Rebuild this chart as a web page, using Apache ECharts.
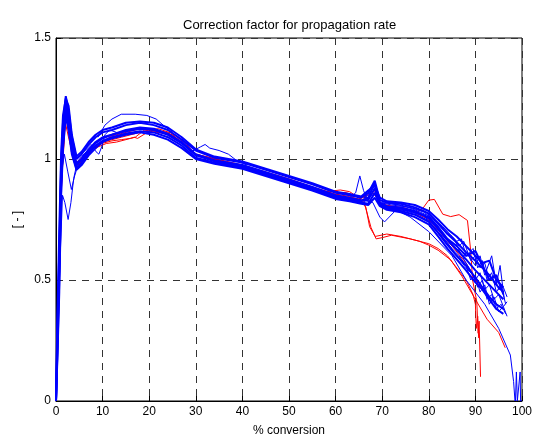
<!DOCTYPE html>
<html>
<head>
<meta charset="utf-8">
<script src="https://cdn.jsdelivr.net/npm/echarts@6/dist/echarts.min.js"></script>
<style>
  html, body { margin: 0; padding: 0; background: #fff; }
  #chart { width: 535px; height: 442px; }
</style>
</head>
<body>
<div id="chart"></div>
<script>
// shared conversion grid for the main blue bundle
var xGrid = [0, 0.3, 0.7, 1.1, 1.5, 2.1, 2.7, 3.4, 4.4, 5.5, 7, 8.5, 10, 12, 15, 18, 21, 24, 27, 30, 34, 40, 45, 50, 55, 60, 63, 65.5, 67, 68.4, 69.5, 71, 74, 77, 80, 82, 84, 86, 88, 90, 91.5, 93, 94.5, 96]

var blue1 = [0, 0.25, 0.55, 0.92, 1.10, 1.24, 1.17, 1.06, 0.98, 1.00, 1.04, 1.07, 1.09, 1.10, 1.12, 1.13, 1.125, 1.105, 1.07, 1.02, 0.995, 0.975, 0.945, 0.915, 0.885, 0.85, 0.84, 0.83, 0.83, 0.88, 0.82, 0.805, 0.80, 0.785, 0.755, 0.71, 0.665, 0.625, 0.585, 0.54, 0.51, 0.48, 0.45, 0.42]
var blue2 = [0, 0.3, 0.62, 0.98, 1.15, 1.26, 1.2, 1.09, 1.0, 1.02, 1.06, 1.09, 1.11, 1.12, 1.14, 1.15, 1.14, 1.12, 1.08, 1.035, 1.005, 0.985, 0.955, 0.925, 0.895, 0.86, 0.85, 0.84, 0.86, 0.91, 0.83, 0.82, 0.815, 0.80, 0.775, 0.735, 0.69, 0.655, 0.615, 0.58, 0.55, 0.52, 0.48, 0.45]
var blue3 = [0, 0.2, 0.5, 0.88, 1.06, 1.2, 1.13, 1.03, 0.96, 0.985, 1.025, 1.055, 1.075, 1.09, 1.105, 1.115, 1.11, 1.09, 1.055, 1.005, 0.985, 0.965, 0.935, 0.905, 0.875, 0.84, 0.83, 0.82, 0.815, 0.86, 0.81, 0.795, 0.785, 0.77, 0.74, 0.695, 0.645, 0.6, 0.56, 0.51, 0.47, 0.43, 0.4, 0.38]
var blue4 = [0, 0.35, 0.7, 1.02, 1.18, 1.25, 1.22, 1.1, 1.01, 1.03, 1.07, 1.1, 1.12, 1.13, 1.15, 1.155, 1.15, 1.13, 1.09, 1.04, 1.01, 0.99, 0.96, 0.93, 0.9, 0.865, 0.855, 0.845, 0.87, 0.89, 0.84, 0.825, 0.82, 0.81, 0.785, 0.75, 0.71, 0.68, 0.64, 0.6, 0.57, 0.58, 0.5, 0.47]
var blue5 = [0, 0.18, 0.45, 0.85, 1.04, 1.18, 1.12, 1.02, 0.955, 0.975, 1.015, 1.045, 1.07, 1.085, 1.1, 1.11, 1.1, 1.08, 1.045, 1.0, 0.98, 0.96, 0.93, 0.9, 0.87, 0.835, 0.825, 0.815, 0.81, 0.84, 0.805, 0.79, 0.78, 0.76, 0.73, 0.68, 0.63, 0.585, 0.54, 0.49, 0.46, 0.42, 0.38, 0.36]
var blue6 = [0, 0.22, 0.58, 0.95, 1.12, 1.22, 1.16, 1.05, 0.975, 0.995, 1.035, 1.065, 1.085, 1.1, 1.115, 1.125, 1.12, 1.1, 1.065, 1.015, 0.99, 0.97, 0.94, 0.91, 0.88, 0.845, 0.835, 0.825, 0.84, 0.9, 0.815, 0.8, 0.795, 0.78, 0.76, 0.72, 0.67, 0.64, 0.6, 0.62, 0.56, 0.5, 0.52, 0.44]

// ragged tails of the bundle
var tailA = [[70, 0.82], [74, 0.81], [77, 0.79], [80, 0.765], [82, 0.73], [84, 0.69], [85.5, 0.67], [87, 0.6], [88.5, 0.6], [90, 0.56], [91, 0.6], [92, 0.52], [93.5, 0.6], [94.5, 0.48], [95.3, 0.56], [96.2, 0.42]]
var tailB = [[70, 0.80], [74, 0.79], [77, 0.775], [80, 0.745], [82, 0.7], [84, 0.655], [86, 0.6], [88, 0.55], [89.5, 0.52], [90.5, 0.47], [91.5, 0.5], [92.5, 0.42], [93.5, 0.44], [94.5, 0.38], [95.5, 0.4], [96.5, 0.36]]
var tailC = [[66, 0.835], [68.4, 0.9], [69.5, 0.83], [72, 0.815], [76, 0.8], [79, 0.78], [81, 0.75], [83, 0.71], [85, 0.68], [86.5, 0.64], [87.5, 0.66], [89, 0.58], [90, 0.6], [91, 0.55], [92, 0.57], [93, 0.5], [94, 0.52], [95, 0.46], [96, 0.47], [96.8, 0.43]]
var tailD = [[66, 0.825], [68.4, 0.87], [69.5, 0.815], [72, 0.8], [76, 0.79], [79, 0.77], [81, 0.735], [83, 0.69], [85, 0.645], [86.5, 0.62], [88, 0.57], [89, 0.54], [90, 0.5], [91, 0.53], [92, 0.46], [93, 0.48], [94, 0.42], [95, 0.44], [96, 0.39], [96.8, 0.41]]
var tailE = [[66, 0.83], [68.4, 0.89], [69.5, 0.82], [72, 0.81], [76, 0.8], [79, 0.785], [81, 0.755], [83, 0.72], [84.5, 0.69], [86, 0.66], [87, 0.67], [88, 0.6], [89.5, 0.63], [90.5, 0.55], [91.5, 0.58], [92.5, 0.5], [93.5, 0.53], [94.5, 0.45], [95.5, 0.48], [96.5, 0.4]]
var tailF = [[66, 0.82], [68.4, 0.86], [69.5, 0.81], [72, 0.795], [76, 0.785], [79, 0.765], [81, 0.72], [83, 0.675], [85, 0.63], [86.5, 0.6], [88, 0.56], [89, 0.5], [90, 0.52], [91, 0.45], [92, 0.48], [93, 0.4], [94, 0.43], [95, 0.37], [96, 0.39], [96.8, 0.35]]

// single blue runs that leave the bundle
var dipLow = [[0, 0], [0.4, 0.3], [0.9, 0.6], [1.4, 0.85], [1.9, 0.82], [2.6, 0.75], [3.2, 0.82], [3.8, 0.92], [4.6, 0.99], [5.5, 1.01], [7, 1.04]]
var dipMid = [[0.5, 0.45], [1.2, 0.95], [1.8, 1.02], [2.5, 0.95], [3.3, 0.874], [4.0, 0.93], [4.8, 0.98], [6, 1.02]]
var bumpEarly = [[9, 1.09], [10.5, 1.14], [12, 1.165], [14, 1.185], [17, 1.185], [19.5, 1.18], [21.5, 1.165], [23, 1.14], [25, 1.11]]
var dipEarly = [[6, 1.03], [7.5, 1.06], [8.6, 1.03], [9.2, 1.02], [9.8, 1.05], [10.5, 1.1], [11.5, 1.12], [13, 1.11]]
var bumpMid = [[29, 1.03], [31, 1.05], [32, 1.06], [33, 1.045], [35, 1.035], [37, 1.02], [39, 0.99], [41, 0.975]]
var spike65 = [[63, 0.84], [64.3, 0.86], [65.2, 0.93], [66, 0.87], [66.8, 0.83]]
var dropEnd = [[66, 0.83], [68, 0.82], [69.5, 0.76], [70.5, 0.74], [73, 0.79], [76, 0.76], [80, 0.7], [85, 0.6], [88, 0.5], [90, 0.45], [92, 0.4], [95, 0.3], [97.5, 0.19], [98.2, 0.08], [98.5, 0]]
var endSpikes = [[98.6, 0], [98.8, 0.12], [99, 0], [99.6, 0.12], [99.7, 0], [100, 0]]

// red runs
var red1 = [[0, 0], [0.7, 0.5], [1.2, 0.95], [1.6, 1.12], [2.1, 1.2], [2.7, 1.12], [3.4, 1.03], [4.4, 0.97], [5.5, 0.99], [7, 1.03], [8.5, 1.05], [10, 1.065], [12, 1.075], [14, 1.08], [16, 1.085], [17, 1.09], [19, 1.12], [22, 1.125], [25, 1.105], [28, 1.06], [30, 1.02], [34, 0.995], [40, 0.972], [45, 0.943], [50, 0.913], [55, 0.882], [58, 0.865], [61, 0.872], [63, 0.865], [65, 0.84], [67, 0.84], [68.4, 0.87], [69.5, 0.82], [72, 0.8], [75, 0.79], [77, 0.78], [78.5, 0.79], [80, 0.83], [81.2, 0.833], [83, 0.772], [84.7, 0.762], [86.5, 0.77], [88.3, 0.746], [89, 0.62], [89.4, 0.5], [90.3, 0.41], [90.6, 0.28], [90.8, 0.33], [91.1, 0.1]]
var red2 = [[0, 0], [1, 0.8], [1.6, 1.08], [2.2, 1.17], [2.8, 1.1], [4, 0.99], [5, 0.975], [7, 1.02], [9, 1.05], [10.8, 1.064], [13, 1.07], [15, 1.08], [16.8, 1.09], [17.5, 1.085], [20, 1.115], [25, 1.1], [30, 1.015], [40, 0.97], [50, 0.91], [60, 0.852], [62, 0.862], [64, 0.85], [66, 0.83], [67.6, 0.717], [68.7, 0.67], [70, 0.675], [72, 0.685], [76, 0.67], [78, 0.66], [80, 0.644], [82, 0.623], [84.7, 0.583], [87.2, 0.513], [90, 0.42], [92.5, 0.338], [95, 0.283], [96.4, 0.22]]
var red3 = [[0, 0], [1.2, 0.9], [2, 1.15], [2.8, 1.08], [4, 0.985], [6, 1.0], [10, 1.07], [14, 1.09], [20, 1.12], [25, 1.1], [30, 1.02], [40, 0.97], [50, 0.915], [60, 0.855], [63, 0.845], [65.5, 0.83], [66.5, 0.8], [67.3, 0.72], [68.5, 0.68], [71, 0.69], [74, 0.68], [77, 0.665], [80, 0.65], [82, 0.63], [84, 0.6], [86, 0.55], [88, 0.5], [89.5, 0.44], [90, 0.4], [90.2, 0.3], [90.5, 0.35], [90.7, 0.26]]
var red4 = [[0, 0], [1.1, 0.88], [2.1, 1.21], [3, 1.1], [4.4, 0.985], [8, 1.05], [12, 1.095], [18, 1.125], [24, 1.11], [30, 1.02], [40, 0.975], [50, 0.918], [60, 0.85], [65, 0.835], [68, 0.86], [70, 0.812], [75, 0.797], [80, 0.75], [85, 0.64], [88, 0.57], [90, 0.5], [92, 0.45], [93.5, 0.42]]

var chart = echarts.init(document.getElementById('chart'))

function line(data, color, width) {
  return {
    type: 'line',
    data: data,
    showSymbol: false,
    silent: true,
    lineStyle: { color: color, width: width },
    emphasis: { disabled: true }
  }
}

function onGrid(ys) {
  return xGrid.map(function(x, i) { return [x, ys[i]] })
}

var series = []
// red first so the blue bundle covers it
;[red1, red2, red3, red4].forEach(function(d) { series.push(line(d, '#ff0000', 1)) })
;[blue1, blue2, blue3, blue4, blue5, blue6].forEach(function(ys) { series.push(line(onGrid(ys), '#0000ff', 2)) })
;[tailA, tailB, tailC, tailD, tailE, tailF].forEach(function(d) { series.push(line(d, '#0000ff', 1)) })
;[dipLow, dipMid, bumpEarly, dipEarly, bumpMid, spike65, dropEnd, endSpikes].forEach(function(d) {
  series.push(line(d, '#0000ff', 1))
})

var axisText = { fontFamily: 'Liberation Sans', fontSize: 12, color: '#000' }
var gridLine = { show: true, lineStyle: { color: '#333', type: [7, 6], width: 1 } }

chart.setOption({
  backgroundColor: '#fff',
  animation: false,
  title: {
    text: 'Correction factor for propagation rate',
    left: 178,
    top: 14,
    textStyle: { fontFamily: 'Liberation Sans', fontSize: 13, fontWeight: 'normal', color: '#000' }
  },
  grid: {
    left: 56, right: 10, top: 38, bottom: 36,
    show: true, borderColor: '#000', borderWidth: 1, backgroundColor: 'transparent'
  },
  xAxis: {
    type: 'value',
    min: 0, max: 100, interval: 10,
    name: '% conversion',
    nameLocation: 'middle',
    nameGap: 24,
    nameTextStyle: axisText,
    axisLine: { show: true, lineStyle: { color: '#000', width: 1 } },
    axisTick: { show: true, inside: true, length: 5, lineStyle: { color: '#000' } },
    axisLabel: Object.assign({ margin: 5 }, axisText),
    splitLine: gridLine
  },
  yAxis: {
    type: 'value',
    min: 0, max: 1.5, interval: 0.5,
    name: '[ - ]',
    nameLocation: 'middle',
    nameGap: 32,
    nameTextStyle: axisText,
    axisLine: { show: true, lineStyle: { color: '#000', width: 1 } },
    axisTick: { show: true, inside: true, length: 5, lineStyle: { color: '#000' } },
    axisLabel: Object.assign({ margin: 5 }, axisText),
    splitLine: gridLine
  },
  series: series
})
</script>
</body>
</html>
